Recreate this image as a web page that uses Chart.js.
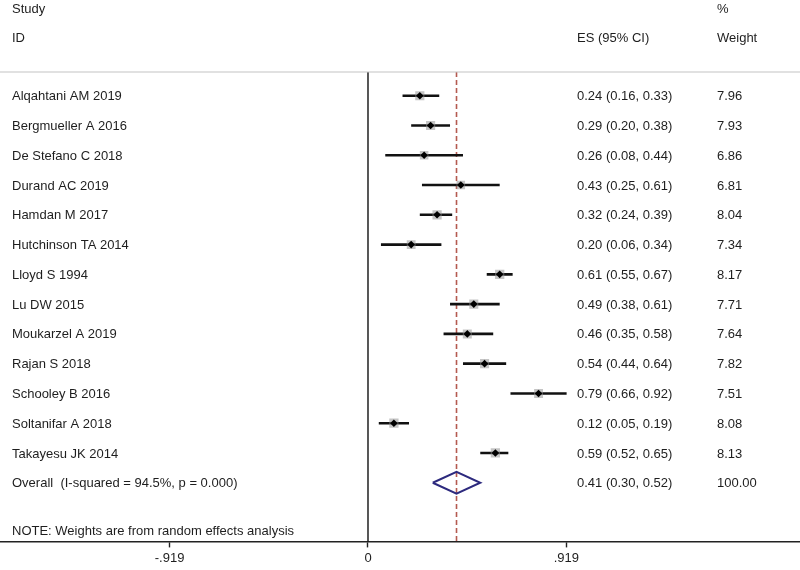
<!DOCTYPE html>
<html>
<head>
<meta charset="utf-8">
<script src="https://cdn.jsdelivr.net/npm/chart.js@4"></script>
<style>
  body { margin: 0; background: #fff; }
  canvas { display: block; }
</style>
</head>
<body>
<canvas id="forest" width="800" height="570"></canvas>
<script>
'use strict';

// *Data*
let studyNames = [
  'Alqahtani AM 2019', 'Bergmueller A 2016', 'De Stefano C 2018', 'Durand AC 2019',
  'Hamdan M 2017', 'Hutchinson TA 2014', 'Lloyd S 1994', 'Lu DW 2015',
  'Moukarzel A 2019', 'Rajan S 2018', 'Schooley B 2016', 'Soltanifar A 2018',
  'Takayesu JK 2014'
];
let studyES = [0.24, 0.29, 0.26, 0.43, 0.32, 0.20, 0.61, 0.49, 0.46, 0.54, 0.79, 0.12, 0.59];
let studyLow = [0.16, 0.20, 0.08, 0.25, 0.24, 0.06, 0.55, 0.38, 0.35, 0.44, 0.66, 0.05, 0.52];
let studyHigh = [0.33, 0.38, 0.44, 0.61, 0.39, 0.34, 0.67, 0.61, 0.58, 0.64, 0.92, 0.19, 0.65];
let studyWeight = [7.96, 7.93, 6.86, 6.81, 8.04, 7.34, 8.17, 7.71, 7.64, 7.82, 7.51, 8.08, 8.13];

let overallLabel = 'Overall  (I-squared = 94.5%, p = 0.000)';
let overallES = 0.41;
let overallLow = 0.30;
let overallHigh = 0.52;
let overallWeight = 100.00;

let noteText = 'NOTE: Weights are from random effects analysis';

let tickValues = [-0.919, 0, 0.919];
let tickLabels = ['-.919', '0', '.919'];

// *Layout constants*
const FONT = '13px "Liberation Sans", Arial, sans-serif';
const TEXT_COLOR = '#1e1e1e';
const TEXT_SHIFT = 1; // middle baseline sits a touch high
const Y_MIN = -0.797;
const Y_MAX = 14.97;
const X_MIN = -1.7045;
const X_MAX = 2.001;
const overallRow = studyNames.length;
const noteRow = overallRow + 1.6;

// *Datasets*
let datasets = [];

// confidence interval whiskers
for (let i = 0; i < studyNames.length; i++) {
  datasets.push({
    type: 'line',
    data: [{ x: studyLow[i], y: i }, { x: studyHigh[i], y: i }],
    borderColor: '#111',
    borderWidth: 2.6,
    pointRadius: 0,
    order: 3
  });
}

// grey weight boxes
datasets.push({
  type: 'scatter',
  data: studyES.map((v, i) => ({ x: v, y: i })),
  pointStyle: 'rect',
  pointRadius: studyWeight.map(w => 2.3 * Math.sqrt(w)),
  backgroundColor: 'rgba(150,150,150,0.55)',
  borderWidth: 0,
  order: 2
});

// point estimates
datasets.push({
  type: 'scatter',
  data: studyES.map((v, i) => ({ x: v, y: i })),
  pointStyle: 'rectRot',
  pointRadius: 3.8,
  backgroundColor: '#000',
  borderColor: '#000',
  borderWidth: 0,
  order: 1
});

// no-effect line at 0
datasets.push({
  type: 'line',
  data: [{ x: 0, y: Y_MIN }, { x: 0, y: Y_MAX }],
  borderColor: '#111',
  borderWidth: 1.4,
  pointRadius: 0,
  clip: false,
  order: 5
});

// overall estimate dashed line
datasets.push({
  type: 'line',
  data: [{ x: overallES, y: Y_MIN }, { x: overallES, y: Y_MAX }],
  borderColor: '#b45a50',
  borderWidth: 1.6,
  borderDash: [5, 3],
  pointRadius: 0,
  clip: false,
  order: 4
});

// overall diamond
let halfH = 0.37;
datasets.push({
  type: 'line',
  data: [
    { x: overallLow, y: overallRow },
    { x: overallES, y: overallRow - halfH },
    { x: overallHigh, y: overallRow },
    { x: overallES, y: overallRow + halfH },
    { x: overallLow, y: overallRow }
  ],
  borderColor: '#2d2a7e',
  borderWidth: 2,
  pointRadius: 0,
  tension: 0,
  order: 0
});

// *Text columns plugin*
const tablePlugin = {
  id: 'forestTable',
  afterDraw(chart) {
    let c = chart.ctx;
    let yScale = chart.scales.y;
    let area = chart.chartArea;

    c.save();
    // separator under the header
    c.strokeStyle = '#c4c4c4';
    c.lineWidth = 1.2;
    c.beginPath();
    c.moveTo(0, area.top);
    c.lineTo(chart.width, area.top);
    c.stroke();

    c.font = FONT;
    c.fillStyle = TEXT_COLOR;
    c.textBaseline = 'middle';
    c.textAlign = 'left';

    c.fillText('Study', 12, 9);
    c.fillText('ID', 12, 38);
    c.fillText('%', 717, 9);
    c.fillText('ES (95% CI)', 577, 38);
    c.fillText('Weight', 717, 38);

    for (let i = 0; i < studyNames.length; i++) {
      let y = yScale.getPixelForValue(i) + TEXT_SHIFT;
      c.fillText(studyNames[i], 12, y);
      c.fillText(`${studyES[i].toFixed(2)} (${studyLow[i].toFixed(2)}, ${studyHigh[i].toFixed(2)})`, 577, y);
      c.fillText(studyWeight[i].toFixed(2), 717, y);
    }

    let oy = yScale.getPixelForValue(overallRow) + TEXT_SHIFT;
    c.fillText(overallLabel, 12, oy);
    c.fillText(`${overallES.toFixed(2)} (${overallLow.toFixed(2)}, ${overallHigh.toFixed(2)})`, 577, oy);
    c.fillText(overallWeight.toFixed(2), 717, oy);

    c.fillText(noteText, 12, yScale.getPixelForValue(noteRow) + TEXT_SHIFT);
    c.restore();
  }
};

// *Chart*
const ctx = document.getElementById('forest');

new Chart(ctx, {
  data: { datasets: datasets },
  options: {
    responsive: false,
    animation: false,
    layout: { autoPadding: false, padding: { top: 72, left: 0, right: 0, bottom: 1 } },
    plugins: {
      legend: { display: false },
      tooltip: { enabled: false }
    },
    scales: {
      x: {
        type: 'linear',
        position: 'bottom',
        min: X_MIN,
        max: X_MAX,
        afterBuildTicks: (scale) => {
          scale.ticks = tickValues.map(v => ({ value: v }));
        },
        ticks: {
          color: TEXT_COLOR,
          font: { family: '"Liberation Sans", Arial, sans-serif', size: 13 },
          padding: 3,
          autoSkip: false,
          maxRotation: 0,
          callback: (value) => {
            let k = tickValues.indexOf(value);
            return k >= 0 ? tickLabels[k] : '';
          }
        },
        grid: {
          drawOnChartArea: false,
          drawTicks: true,
          tickLength: 6,
          tickWidth: 1.4,
          tickColor: '#222'
        },
        border: { display: true, color: '#222', width: 1.4 }
      },
      y: {
        type: 'linear',
        display: false,
        reverse: true,
        min: Y_MIN,
        max: Y_MAX
      }
    }
  },
  plugins: [tablePlugin]
});
</script>
</body>
</html>
